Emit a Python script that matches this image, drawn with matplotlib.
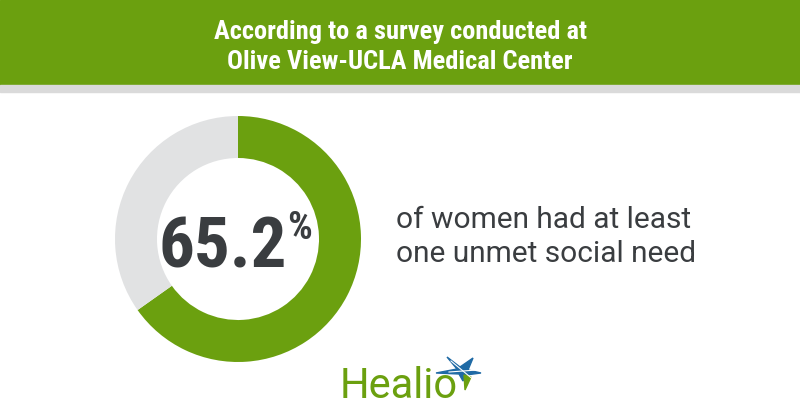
import matplotlib
matplotlib.use("Agg")
import matplotlib.pyplot as plt
from matplotlib.patches import Rectangle, Polygon

title_lines = ["According to a survey conducted at", "Olive View-UCLA Medical Center"]
share_values = [65.2, 34.8]
share_label = "65.2"
caption_lines = ["of women had at least", "one unmet social need"]
brand = "Healio"

GREEN = "#6ba00f"
GRAY = "#e1e2e3"
DARK = "#3a3d40"
W, H = 800, 420

fig = plt.figure(figsize=(8, 4.2), dpi=100)
ax = fig.add_axes([0, 0, 1, 1])

def Y(y):
    return H - y

cond = ['Roboto Condensed', 'Roboto', 'DejaVu Sans']
reg = ['Roboto', 'DejaVu Sans']

# header band
ax.add_patch(Rectangle((0, Y(85)), W, 85, color=GREEN, zorder=1))
ax.add_patch(Rectangle((0, Y(92)), W, 7, color="#dadada", zorder=1))
ax.text(400, Y(39), title_lines[0], ha='center', va='baseline', color='white',
        fontsize=19, fontweight='bold', family=cond, zorder=3)
ax.text(400, Y(69), title_lines[1], ha='center', va='baseline', color='white',
        fontsize=19, fontweight='bold', family=cond, zorder=3)

# donut
cx, cy, r = 238, Y(239), 123
ax.pie(share_values, colors=[GREEN, GRAY], startangle=90, counterclock=False,
       center=(cx, cy), radius=r, wedgeprops=dict(width=42, linewidth=0))

ax.set_xlim(0, W)
ax.set_ylim(0, H)
ax.set_aspect('auto')
ax.axis('off')

ax.text(287, Y(267), share_label, ha='right', va='baseline', color=DARK,
        fontsize=51, fontweight='bold', family=cond)
ax.text(287, Y(239), "%", ha='left', va='baseline', color=DARK,
        fontsize=28, fontweight='bold', family=cond)

# caption
ax.text(396, Y(228), caption_lines[0], ha='left', va='baseline', color=DARK,
        fontsize=21.5, family=reg)
ax.text(396, Y(262), caption_lines[1], ha='left', va='baseline', color=DARK,
        fontsize=21.5, family=reg)

# logo
ax.text(340, Y(398), brand, ha='left', va='baseline', color=GREEN,
        fontsize=30, family=reg)
sx, sy = 463, 371
star = [(sx - 16, sy - 14), (sx - 3, sy - 4), (sx + 10, sy - 13), (sx + 5, sy - 1),
        (sx + 18, sy + 2), (sx + 3, sy + 4), (sx + 0, sy + 10), (sx - 4, sy + 3),
        (sx - 27, sy + 2), (sx - 6, sy - 2)]
ax.add_patch(Polygon([(x, Y(y)) for x, y in star], closed=True, color="#1f6aa5", zorder=4))
arrow = [(sx + 1, sy + 4), (sx + 8, sy + 6), (sx + 2, sy + 19)]
ax.add_patch(Polygon([(x, Y(y)) for x, y in arrow], closed=True, color=GREEN, zorder=5))
ax.plot([sx - 12, sx + 12], [Y(sy - 10), Y(sy + 10)], color='white', lw=0.8, zorder=6)
ax.plot([sx - 14, sx + 14], [Y(sy + 1), Y(sy - 1)], color='white', lw=0.8, zorder=6)

fig.savefig("out.png", dpi=100)
